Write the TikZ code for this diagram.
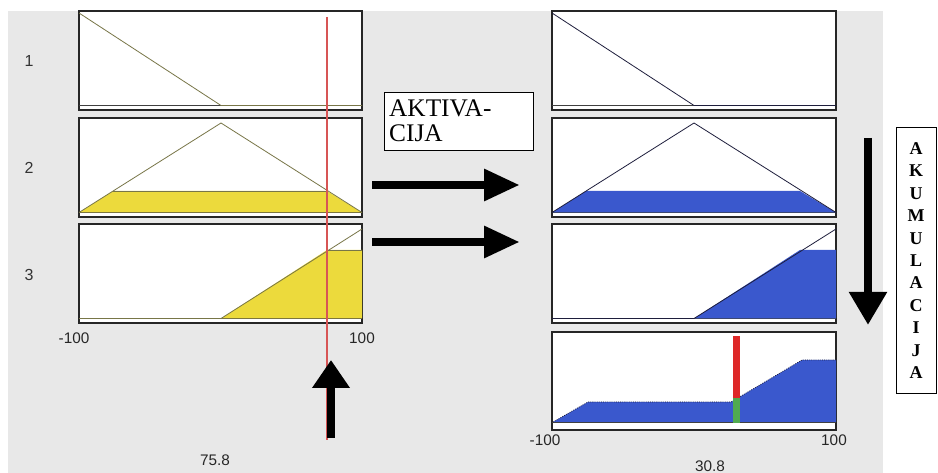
\documentclass[tikz,border=0pt]{standalone}
\usepackage{fontspec}
\setmainfont{Liberation Serif}
\setsansfont{Liberation Sans}
\usetikzlibrary{arrows.meta, positioning}

\definecolor{viewergrey}{RGB}{232,232,232}
\definecolor{mfolive}{RGB}{120,118,72}
\definecolor{mfnavy}{RGB}{30,30,60}
\definecolor{ruleyellow}{RGB}{236,218,60}
\definecolor{ruleblue}{RGB}{58,88,205}
\definecolor{inputred}{RGB}{215,85,85}
\definecolor{barred}{RGB}{222,40,40}
\definecolor{bargreen}{RGB}{80,170,80}

\begin{document}
\begin{tikzpicture}[
        x=0.75pt, y=-0.75pt,
        frame/.style={draw=black!85, line width=0.9pt, fill=white},
        axisline/.style={draw=black!75, line width=0.6pt},
        inmf/.style={draw=mfolive, line width=0.6pt},
        outmf/.style={draw=mfnavy, line width=0.6pt},
        rulenum/.style={font=\sffamily\fontsize{12}{14}\selectfont, text=black!80},
        ticklabel/.style={font=\sffamily\fontsize{11.5}{13}\selectfont, text=black!85},
        stagebox/.style={rectangle, draw=black, line width=0.7pt, fill=white, inner sep=0pt},
        blockarrow/.style={line width=6.6pt, draw=black}
    ]
        \useasboundingbox (0,0) rectangle (938,473);
        \fill[viewergrey] (8,11) rectangle (883,473);

        % input side
        \draw[frame] (79,11) rectangle (362,110);
        \draw[axisline] (79,105.5) -- (362,105.5);
        \draw[inmf] (79,13) -- (221,105.5) -- (362,105.5);

        \draw[frame] (79,118) rectangle (362,217);
        \draw[axisline] (79,212.5) -- (362,212.5);
        \fill[ruleyellow] (79,212.5) -- (113,191) -- (327,191) -- (362,212.5) -- cycle;
        \draw[inmf] (113,191) -- (327,191);
        \draw[inmf] (79,212.5) -- (221,123) -- (362,212.5);

        \draw[frame] (79,224) rectangle (362,323);
        \draw[axisline] (79,318.5) -- (362,318.5);
        \fill[ruleyellow] (221,318.5) -- (327,250) -- (362,250) -- (362,318.5) -- cycle;
        \draw[inmf] (327,250) -- (362,250);
        \draw[inmf] (79,318.5) -- (221,318.5) -- (362,229);

        \draw[inputred, line width=0.9pt] (327,17) -- (327,440);

        \node[rulenum] (r1) at (29,61) {1};
        \node[rulenum] (r2) at (29,168) {2};
        \node[rulenum] (r3) at (29,275) {3};
        \node[ticklabel] (inmin) at (74,338) {-100};
        \node[ticklabel] (inmax) at (362,338) {100};
        \node[ticklabel] (inval) at (215,460) {75.8};

        % output side
        \draw[frame] (552,11) rectangle (836,110);
        \draw[axisline] (552,105.5) -- (836,105.5);
        \draw[outmf] (552,13) -- (694,105.5) -- (836,105.5);

        \draw[frame] (552,118) rectangle (836,217);
        \draw[axisline] (552,212.5) -- (836,212.5);
        \fill[ruleblue] (552,212.5) -- (586,191) -- (800,191) -- (836,212.5) -- cycle;
        \draw[outmf] (552,212.5) -- (694,123) -- (836,212.5);

        \draw[frame] (552,224) rectangle (836,323);
        \draw[axisline] (552,318.5) -- (836,318.5);
        \fill[ruleblue] (694,318.5) -- (800,250) -- (836,250) -- (836,318.5) -- cycle;
        \draw[outmf] (552,318.5) -- (694,318.5) -- (836,229);

        \draw[frame] (552,332) rectangle (836,430);
        \draw[axisline] (552,422) -- (836,422);
        \fill[ruleblue] (553,422) -- (588,402) -- (731,402) -- (802,360) -- (836,360) -- (836,422) -- cycle;
        \draw[outmf, densely dotted] (553,422) -- (588,402) -- (731,402) -- (802,360) -- (836,360);
        \fill[barred] (733,336) rectangle (740,398);
        \fill[bargreen] (733,398) rectangle (740,423);

        \node[ticklabel] (outmin) at (545,440) {-100};
        \node[ticklabel] (outmax) at (834,440) {100};
        \node[ticklabel] (outval) at (710,466) {30.8};

        % stage labels
        \node[stagebox, minimum width=111.75pt, minimum height=43.5pt, text width=104pt, align=left,
              font=\fontsize{19}{18.75}\selectfont] (aktivacija) at (458.5,121) {AKTIVA-\\CIJA};
        \node[stagebox, minimum width=30pt, minimum height=200pt, align=center,
              font=\bfseries\fontsize{13.5}{16.8}\selectfont] (akumulacija) at (916,260.5)
              {A\\K\\U\\M\\U\\L\\A\\C\\I\\J\\A};

        % block arrows
        \coordinate (inTail) at (331,438);
        \coordinate (inTip) at (331,360);
        \coordinate (act1Tail) at (372,185);
        \coordinate (act1Tip) at (520,185);
        \coordinate (act2Tail) at (372,242);
        \coordinate (act2Tip) at (520,242);
        \coordinate (accTail) at (868,138);
        \coordinate (accTip) at (868,325);

        \draw[blockarrow, -{Triangle[length=21pt, width=27pt]}] (inTail) -- (inTip);
        \draw[blockarrow, -{Triangle[length=27pt, width=22.5pt]}] (act1Tail) -- (act1Tip);
        \draw[blockarrow, -{Triangle[length=27pt, width=22.5pt]}] (act2Tail) -- (act2Tip);
        \draw[blockarrow, -{Triangle[length=24.75pt, width=27pt]}] (accTail) -- (accTip);
    \end{tikzpicture}
\end{document}
